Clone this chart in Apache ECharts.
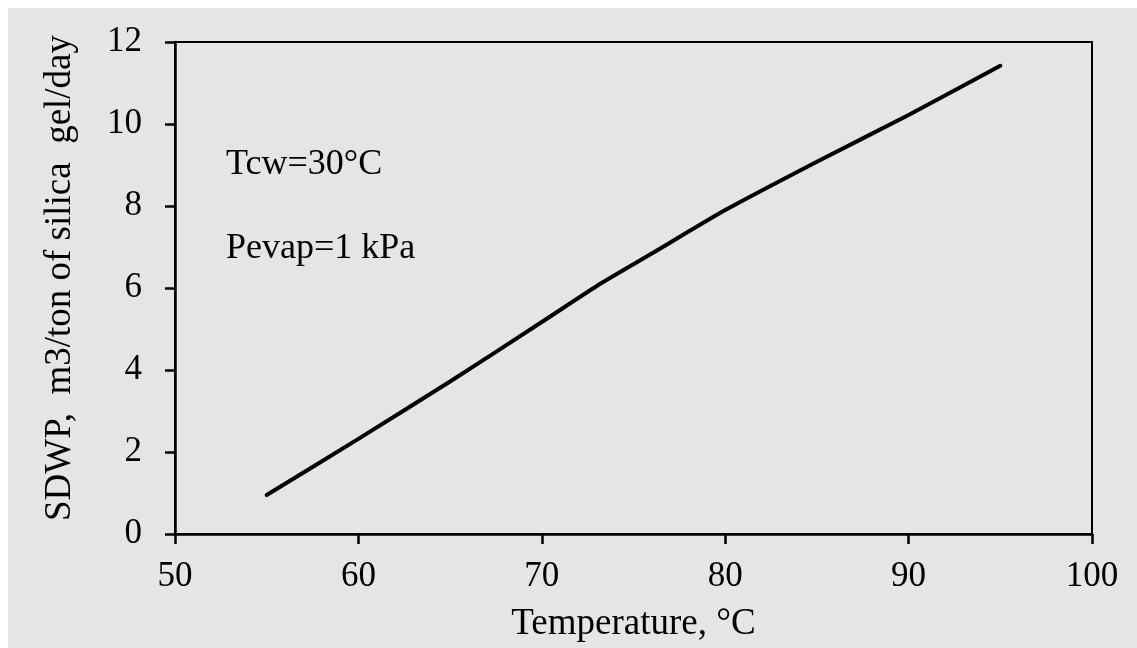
<!DOCTYPE html>
<html>
<head>
<meta charset="utf-8">
<script src="https://cdn.jsdelivr.net/npm/echarts@6/dist/echarts.min.js"></script>
<style>
  html, body { margin: 0; padding: 0; background: #fff; }
  #chart { width: 1137px; height: 648px; }
</style>
</head>
<body>
<div id="chart"></div>
<script>
// temperature (°C) and SDWP
var temps = [55, 60, 65, 70, 73, 76, 80, 85, 90, 95]
var sdwp = [0.95, 2.32, 3.72, 5.17, 6.05, 6.84, 7.9, 9.08, 10.22, 11.42]
var notes = ['Tcw=30°C', 'Pevap=1 kPa']

var font = '"Liberation Serif", "Times New Roman", serif'

var points = temps.map(function (t, i) { return [t, sdwp[i]] })

var chart = echarts.init(document.getElementById('chart'))
chart.setOption({
  animation: false,
  backgroundColor: '#fff',
  graphic: [
    // grey panel, white strip on top and left
    { type: 'rect', z: -10, silent: true, shape: { x: 8, y: 8, width: 1129, height: 640 }, style: { fill: '#e5e5e5' } },
    { type: 'text', left: 226, top: 147, style: { text: notes[0], font: '36px ' + font, fill: '#000' } },
    { type: 'text', left: 226, top: 231, style: { text: notes[1], font: '36px ' + font, fill: '#000' } }
  ],
  grid: {
    left: 175,
    top: 42,
    right: 45,
    bottom: 112,
    show: true,
    borderColor: '#000',
    borderWidth: 2,
    backgroundColor: 'transparent'
  },
  xAxis: {
    type: 'value',
    min: 50,
    max: 100,
    interval: 10,
    name: 'Temperature, °C',
    nameLocation: 'middle',
    nameGap: 72,
    nameTextStyle: { fontFamily: font, fontSize: 37, color: '#000' },
    axisLine: { onZero: false, lineStyle: { color: '#000', width: 2.5 } },
    axisTick: { length: 10, lineStyle: { color: '#000', width: 2.5 } },
    axisLabel: { margin: 25, fontFamily: font, fontSize: 35, color: '#000' },
    splitLine: { show: false }
  },
  yAxis: {
    type: 'value',
    min: 0,
    max: 12,
    interval: 2,
    name: 'SDWP,  m3/ton of silica  gel/day',
    nameLocation: 'middle',
    nameGap: 96,
    nameTextStyle: { fontFamily: font, fontSize: 37, color: '#000', padding: [0, 0, 0, 20] },
    axisLine: { lineStyle: { color: '#000', width: 2.5 } },
    axisTick: { length: 10, lineStyle: { color: '#000', width: 2.5 } },
    axisLabel: { margin: 33, fontFamily: font, fontSize: 35, color: '#000' },
    splitLine: { show: false }
  },
  series: [
    {
      type: 'line',
      data: points,
      showSymbol: false,
      smooth: 0.2,
      lineStyle: { color: '#000', width: 4, join: 'round', cap: 'round' }
    }
  ]
})
</script>
</body>
</html>
